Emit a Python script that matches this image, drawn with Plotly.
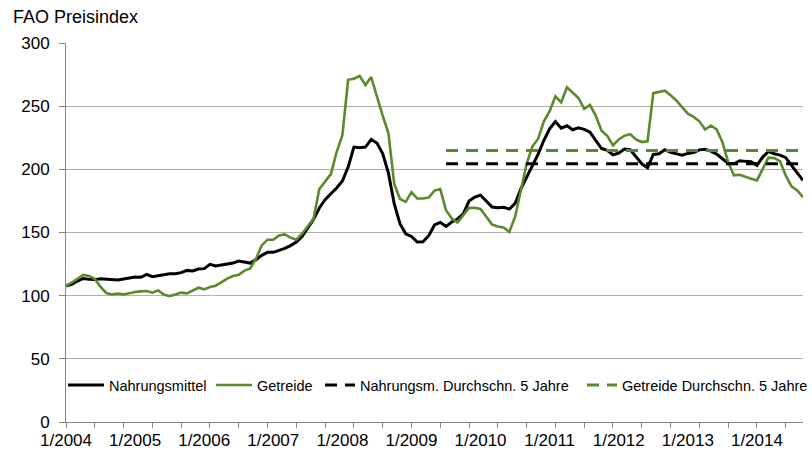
import plotly.graph_objects as go

# ---- data -------------------------------------------------------------
years = list(range(2004, 2015))
months = [f"{m}/{y}" for y in years for m in range(1, 13)][:129]   # 1/2004 .. 9/2014
year_labels = [f"1/{y}" for y in years]

food = [
    107.9, 109.0, 111.6, 113.6, 112.9, 112.7, 113.4, 112.9, 112.9, 112.4, 113.2, 114.2,   # 2004
    114.8, 114.5, 116.9, 115.0, 115.8, 117.1, 117.4, 117.4, 118.2, 120.0, 119.5, 121.1,   # 2005
    121.4, 124.8, 123.5, 124.3, 125.2, 125.8, 127.4, 126.6, 125.8, 128.5, 131.9, 134.3,   # 2006
    134.3, 135.9, 137.4, 139.6, 142.5, 146.9, 153.8, 160.4, 169.4, 176.0, 180.7, 185.2,   # 2007
    190.7, 201.8, 217.6, 217.1, 217.6, 223.7, 220.8, 212.5, 197.0, 172.8, 157.0, 149.0,   # 2008
    146.9, 142.5, 142.7, 147.5, 156.0, 158.0, 154.8, 158.3, 160.7, 164.8, 174.9, 178.0,   # 2009
    179.6, 174.5, 170.1, 169.6, 170.0, 168.5, 173.0, 184.6, 193.8, 202.3, 212.0, 223.0,   # 2010
    232.0, 237.8, 232.6, 234.5, 231.3, 232.9, 231.6, 229.5, 222.9, 216.5, 215.0, 211.5,   # 2011
    212.9, 216.0, 215.5, 210.3, 204.4, 201.2, 211.8, 212.3, 215.5, 213.4, 212.1, 211.2,   # 2012
    212.6, 213.3, 215.4, 215.8, 214.4, 212.1, 208.4, 204.7, 204.4, 206.8, 206.3, 206.0,   # 2013
    203.1, 209.7, 214.2, 212.3, 211.3, 209.2, 203.1, 197.0, 191.2,                        # 2014
]

cereals = [
    107.9, 110.3, 113.4, 116.4, 115.6, 113.4, 106.9, 102.1, 101.0, 101.6, 101.0, 102.1,   # 2004
    102.9, 103.4, 103.7, 102.4, 104.2, 100.8, 99.7, 101.0, 102.4, 101.8, 104.2, 106.3,    # 2005
    105.0, 106.9, 107.9, 111.0, 113.5, 115.6, 116.6, 119.8, 121.6, 129.3, 139.8, 144.3,   # 2006
    144.3, 147.7, 148.5, 145.9, 144.3, 149.0, 155.1, 161.0, 184.4, 190.8, 196.2, 213.7,   # 2007
    227.0, 270.9, 271.7, 274.0, 266.7, 273.0, 257.2, 242.5, 228.5, 188.7, 176.5, 174.3,   # 2008
    182.0, 176.9, 176.9, 177.6, 183.2, 184.3, 167.7, 161.1, 157.9, 163.7, 169.5, 169.5,   # 2009
    168.7, 162.4, 156.3, 154.7, 154.0, 150.5, 162.5, 183.3, 204.4, 218.0, 224.2, 238.0,   # 2010
    246.0, 257.8, 253.0, 265.0, 261.0, 256.5, 247.8, 251.0, 242.5, 230.5, 226.5, 218.9,   # 2011
    223.7, 226.6, 227.9, 223.7, 221.6, 222.1, 260.3, 261.4, 262.2, 258.7, 254.5, 249.2,   # 2012
    244.1, 241.5, 238.0, 231.5, 234.7, 231.6, 221.6, 205.8, 195.2, 195.7, 193.9, 192.6,   # 2013
    191.2, 199.7, 209.2, 208.9, 206.5, 195.2, 186.5, 183.3, 178.0,                        # 2014
]

avg_start = "7/2009"
avg_end = "9/2014"
avg_food = 204.5
avg_cereals = 215.0

y_ticks = [0, 50, 100, 150, 200, 250, 300]

# ---- figure -----------------------------------------------------------
idx = list(range(len(months)))
i0, i1 = months.index(avg_start), months.index(avg_end)

BLACK = "#000000"
GREEN = "#5a8a2b"
AXIS = "#868686"
GRID = "#b0b0b0"
FONT = "Liberation Sans, Arial, sans-serif"

fig = go.Figure()
fig.add_trace(go.Scatter(x=idx, y=food, mode="lines", name="Nahrungsmittel",
                         legend="legend", line=dict(color=BLACK, width=3)))
fig.add_trace(go.Scatter(x=idx, y=cereals, mode="lines", name="Getreide",
                         legend="legend2", line=dict(color=GREEN, width=2.6)))
fig.add_trace(go.Scatter(x=[i0, i1], y=[avg_food, avg_food], mode="lines",
                         name="Nahrungsm. Durchschn. 5 Jahre", xaxis="x2", legend="legend3",
                         line=dict(color=BLACK, width=3, dash="12px,8px")))
fig.add_trace(go.Scatter(x=[i0, i1], y=[avg_cereals, avg_cereals], mode="lines",
                         name="Getreide Durchschn. 5 Jahre", xaxis="x2", legend="legend4",
                         line=dict(color=GREEN, width=3, dash="12px,8px")))

PLOT_L, PLOT_W = 66, 812 - 66 - 9


def legend_at(px_left, itemwidth):
    return dict(orientation="h", x=(px_left - PLOT_L) / PLOT_W, xanchor="left",
                y=0.0976, yanchor="middle",
                font=dict(size=14.5, family=FONT, color="#000000"),
                bgcolor="rgba(0,0,0,0)", itemwidth=itemwidth)


xr = [0, len(months) - 1]
fig.update_layout(
    width=812, height=454,
    margin=dict(l=66, r=9, t=43, b=32, autoexpand=False),
    paper_bgcolor="white", plot_bgcolor="white",
    font=dict(family=FONT, color="#000000", size=17),
    title=dict(text="FAO Preisindex", x=13 / 812, xref="container", xanchor="left",
               y=1 - 17 / 454, yref="container", yanchor="middle",
               font=dict(size=18, family=FONT, color="#000000"), automargin=False),
    showlegend=True,
    legend=legend_at(63, 36),
    legend2=legend_at(211, 36),
    legend3=legend_at(320, 30),
    legend4=legend_at(582, 30),
    xaxis=dict(range=xr, tickmode="array", tickvals=idx[::5], ticks="outside",
               ticklen=5, tickcolor=AXIS, showticklabels=False, showline=True,
               linecolor=AXIS, linewidth=1, showgrid=False, zeroline=False,
               automargin=False),
    xaxis2=dict(range=xr, overlaying="x", anchor="y", side="bottom",
                tickmode="array", tickvals=[months.index(t) for t in year_labels],
                ticktext=year_labels, ticks="", showline=False, showgrid=False,
                zeroline=False, tickfont=dict(size=17), ticklabelstandoff=6,
                automargin=False),
    yaxis=dict(range=[0, 300], tickmode="array", tickvals=y_ticks, showgrid=True,
               gridcolor=GRID, gridwidth=1, showline=True, linecolor=AXIS, linewidth=1,
               ticks="outside", ticklen=6, tickcolor=AXIS, zeroline=False,
               tickfont=dict(size=17), ticklabelstandoff=6, automargin=False),
)

fig.write_html(
    "out.html",
    config={"displayModeBar": False},
    post_script="document.body.style.margin='0';document.body.style.padding='0';"
                "document.body.style.overflow='hidden';",
)
